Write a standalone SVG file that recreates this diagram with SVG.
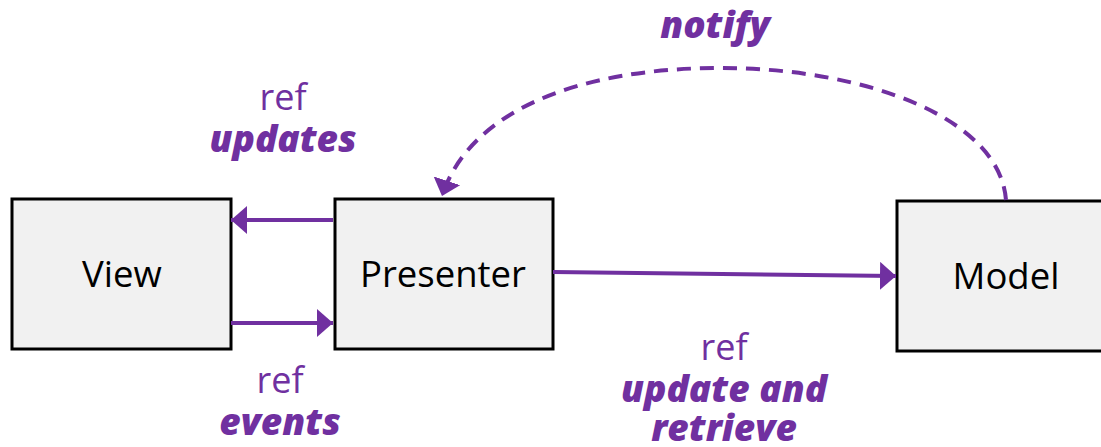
<svg xmlns="http://www.w3.org/2000/svg" width="1101" height="447" viewBox="0 0 1101 447">
<style>
.box{fill:#f1f1f1;stroke:#000;stroke-width:3}
.nt{font-family:"Open Sans","Liberation Sans",sans-serif;font-size:36.5px;fill:#000;text-anchor:middle}
.ref{font-family:"Open Sans","Liberation Sans",sans-serif;font-size:36px;fill:#7030a0;text-anchor:middle}
.lb{font-family:"Open Sans","Liberation Sans",sans-serif;font-size:37px;font-weight:800;font-style:italic;fill:#7030a0;text-anchor:middle}
.c{fill:none;stroke:#7030a0;stroke-width:4}
</style>
<defs>
<marker id="ah" markerWidth="4" markerHeight="7" refX="4" refY="3.5" orient="auto" markerUnits="strokeWidth">
<path d="M0,0 L4,3.5 L0,7 z" fill="#7030a0"/>
</marker>
</defs>
<g id="view"><rect class="box" x="12" y="199" width="219" height="150"/><text class="nt" x="122" y="287">View</text></g>
<g id="presenter"><rect class="box" x="335" y="199" width="218" height="150"/><text class="nt" x="443" y="287">Presenter</text></g>
<g id="model"><rect class="box" x="897" y="201" width="210" height="150"/><text class="nt" x="1006" y="289">Model</text></g>
<g id="connectors">
<line class="c" x1="333" y1="220" x2="231" y2="220" marker-end="url(#ah)"/>
<line class="c" x1="231" y1="323" x2="333" y2="323" marker-end="url(#ah)"/>
<line class="c" x1="553" y1="272" x2="896" y2="276" marker-end="url(#ah)"/>
<path class="c" stroke-dasharray="14,9" d="M1006,200 C1000,120 870,68 720,68 C580,68 470,110 442,196" marker-end="url(#ah)"/>
</g>
<g id="labels">
<text class="lb" x="715" y="38">notify</text>
<text class="ref" x="283" y="110">ref</text>
<text class="lb" x="283" y="152">updates</text>
<text class="ref" x="280" y="393">ref</text>
<text class="lb" x="280" y="435">events</text>
<text class="ref" x="724" y="360">ref</text>
<text class="lb" x="724" y="402">update and</text>
<text class="lb" x="724" y="441">retrieve</text>
</g>
</svg>
